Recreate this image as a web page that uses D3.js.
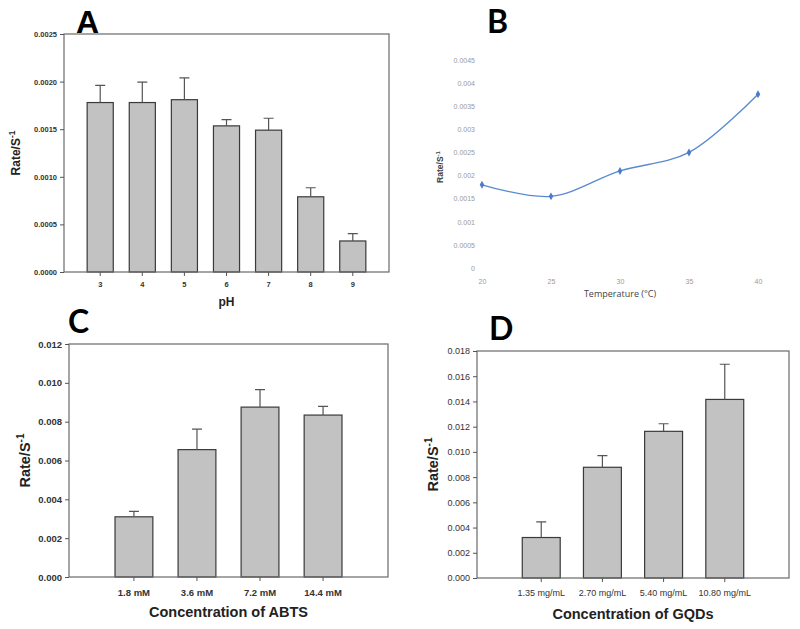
<!DOCTYPE html>
<html>
<head>
<meta charset="utf-8">
<script src="https://cdn.jsdelivr.net/npm/d3@7"></script>
<style>
  body { margin: 0; background: #fff; }
  svg { display: block; font-family: "Liberation Sans", Arial, sans-serif; }
</style>
</head>
<body>
<div id="chart"></div>
<script>
// ---- data ----
const phLabels = ["3", "4", "5", "6", "7", "8", "9"];
const phRate = [0.00178, 0.00178, 0.00181, 0.001535, 0.00149, 0.00079, 0.000326];
const phErr = [0.00018, 0.000215, 0.00023, 0.000066, 0.000125, 0.000095, 0.000078];
const phTicks = [0, 0.0005, 0.001, 0.0015, 0.002, 0.0025];

const tempLabels = [20, 25, 30, 35, 40];
const tempRate = [0.0018, 0.00155, 0.0021, 0.0025, 0.00376];
const tempTicks = [0, 0.0005, 0.001, 0.0015, 0.002, 0.0025, 0.003, 0.0035, 0.004, 0.0045];
const tempTickLabels = ["0", "0.0005", "0.001", "0.0015", "0.002", "0.0025", "0.003", "0.0035", "0.004", "0.0045"];

const abtsLabels = ["1.8 mM", "3.6 mM", "7.2 mM", "14.4 mM"];
const abtsRate = [0.0031, 0.00656, 0.00875, 0.00834];
const abtsErr = [0.00028, 0.00106, 0.0009, 0.00045];
const abtsTicks = [0, 0.002, 0.004, 0.006, 0.008, 0.01, 0.012];

const gqdLabels = ["1.35 mg/mL", "2.70 mg/mL", "5.40 mg/mL", "10.80 mg/mL"];
const gqdRate = [0.00321, 0.00878, 0.01163, 0.01416];
const gqdErr = [0.00124, 0.00092, 0.0006, 0.00279];
const gqdTicks = [0, 0.002, 0.004, 0.006, 0.008, 0.01, 0.012, 0.014, 0.016, 0.018];

const svg = d3.select("#chart").append("svg")
  .attr("width", 800)
  .attr("height", 629);

// y axis title with superscript -1
function rateTitle(g, x, y, size, weight, color) {
  const t = g.append("text")
    .attr("transform", `translate(${x},${y}) rotate(-90)`)
    .attr("text-anchor", "middle")
    .attr("font-size", size)
    .attr("font-weight", weight)
    .attr("fill", color);
  t.append("tspan").text("Rate/S");
  t.append("tspan").attr("dy", -size * 0.4).attr("font-size", size * 0.7).text("-1");
}

//---------------------------------------------------
/* SigmaPlot style bar panel */
function barPanel(o) {
  const g = svg.append("g");
  const x = d3.scaleBand()
    .domain(o.labels)
    .range([o.left, o.right])
    .paddingInner(o.padIn)
    .paddingOuter(o.padOut);
  const y = d3.scaleLinear()
    .domain([0, o.ticks[o.ticks.length - 1]])
    .range([o.bottom, o.top]);

  // bars
  g.selectAll(".bar")
    .data(o.labels).enter()
    .append("rect")
    .attr("x", d => x(d))
    .attr("y", (d, i) => y(o.values[i]))
    .attr("width", x.bandwidth())
    .attr("height", (d, i) => y(0) - y(o.values[i]))
    .attr("fill", "#c2c2c2")
    .attr("stroke", "#3a3a3a")
    .attr("stroke-width", 1.2);

  // error bars, upper half only
  const cap = o.cap;
  g.selectAll(".err")
    .data(o.labels).enter()
    .append("path")
    .attr("d", (d, i) => {
      const cx = x(d) + x.bandwidth() / 2;
      const y0 = y(o.values[i]);
      const y1 = y(o.values[i] + o.errors[i]);
      return `M${cx},${y0}V${y1}M${cx - cap / 2},${y1}H${cx + cap / 2}`;
    })
    .attr("stroke", "#555")
    .attr("stroke-width", 1.2)
    .attr("fill", "none");

  // frame
  g.append("rect")
    .attr("x", o.left).attr("y", o.top)
    .attr("width", o.right - o.left).attr("height", o.bottom - o.top)
    .attr("fill", "none")
    .attr("stroke", "#6a6a6a")
    .attr("stroke-width", 1.2);

  const yAxis = d3.axisLeft(y).tickValues(o.ticks).tickFormat(d3.format(o.fmt)).tickSize(4).tickPadding(3);
  g.append("g")
    .attr("transform", `translate(${o.left},0)`)
    .call(yAxis)
    .call(a => a.select(".domain").remove())
    .call(a => a.selectAll("line").attr("stroke", "#555"))
    .call(a => a.selectAll("text")
      .attr("font-family", "Liberation Sans, Arial, sans-serif")
      .attr("font-size", o.tickSize)
      .attr("font-weight", o.tickWeight)
      .attr("fill", "#333"));

  const xAxis = d3.axisBottom(x).tickSize(4).tickPadding(o.xPad);
  g.append("g")
    .attr("transform", `translate(0,${o.bottom})`)
    .call(xAxis)
    .call(a => a.select(".domain").remove())
    .call(a => a.selectAll("line").attr("stroke", "#555"))
    .call(a => a.selectAll("text")
      .attr("font-family", "Liberation Sans, Arial, sans-serif")
      .attr("font-size", o.tickSize)
      .attr("font-weight", o.tickWeight)
      .attr("fill", "#333"));

  g.append("text")
    .attr("x", (o.left + o.right) / 2)
    .attr("y", o.xTitleY)
    .attr("text-anchor", "middle")
    .attr("font-size", o.titleSize)
    .attr("font-weight", "bold")
    .attr("fill", "#222")
    .text(o.xTitle);

  rateTitle(g, o.yTitleX, (o.top + o.bottom) / 2, o.titleSize, "bold", "#222");

  g.append("text")
    .attr("x", o.letterX).attr("y", o.letterY)
    .attr("font-family", o.letterFont)
    .attr("font-size", 32)
    .attr("font-weight", "bold")
    .attr("fill", "#000")
    .text(o.letter);
}

barPanel({
  labels: phLabels, values: phRate, errors: phErr, ticks: phTicks, fmt: ".4f",
  left: 64, right: 389, top: 34, bottom: 272, padIn: 0.38, padOut: 0.55, cap: 10,
  tickSize: 7.5, tickWeight: "bold", xPad: 6,
  xTitle: "pH", xTitleY: 306, titleSize: 12, yTitleX: 20,
  letter: "A", letterX: 76, letterY: 33, letterFont: "Liberation Sans, Arial, sans-serif"
});

barPanel({
  labels: abtsLabels, values: abtsRate, errors: abtsErr, ticks: abtsTicks, fmt: ".3f",
  left: 69, right: 388, top: 344, bottom: 577, padIn: 0.4, padOut: 0.73, cap: 10,
  tickSize: 9.5, tickWeight: "bold", xPad: 8,
  xTitle: "Concentration of ABTS", xTitleY: 617, titleSize: 14.5, yTitleX: 30,
  letter: "C", letterX: 68, letterY: 333, letterFont: "Lato, 'Open Sans', sans-serif"
});

barPanel({
  labels: gqdLabels, values: gqdRate, errors: gqdErr, ticks: gqdTicks, fmt: ".3f",
  left: 477, right: 789, top: 351, bottom: 578, padIn: 0.38, padOut: 0.74, cap: 10,
  tickSize: 9, tickWeight: "normal", xPad: 8,
  xTitle: "Concentration of GQDs", xTitleY: 619, titleSize: 14.5, yTitleX: 438,
  letter: "D", letterX: 489, letterY: 340, letterFont: "Lato, 'Open Sans', sans-serif"
});

//---------------------------------------------------
/* Excel style line panel (B) */
const bx = d3.scalePoint().domain(tempLabels).range([482, 758]);
const by = d3.scaleLinear().domain([0, 0.0045]).range([268, 60]);
const gB = svg.append("g");

const byAxis = d3.axisLeft(by).tickValues(tempTicks)
  .tickFormat((d, i) => tempTickLabels[i]).tickSize(0).tickPadding(0);
gB.append("g")
  .attr("transform", "translate(475,0)")
  .call(byAxis)
  .call(a => a.select(".domain").remove())
  .call(a => a.selectAll("text")
    .attr("font-family", "Liberation Sans, Arial, sans-serif")
    .attr("font-size", 7)
    .attr("fill", "#9a9a9a"));

const bxAxis = d3.axisBottom(bx).tickSize(0).tickPadding(11);
gB.append("g")
  .attr("transform", "translate(0,268)")
  .call(bxAxis)
  .call(a => a.select(".domain").remove())
  .call(a => a.selectAll("text")
    .attr("font-family", "Liberation Sans, Arial, sans-serif")
    .attr("font-size", 7)
    .attr("fill", "#9a9a9a"));

const lineB = d3.line()
  .x((d, i) => bx(tempLabels[i]))
  .y(d => by(d))
  .curve(d3.curveCatmullRom.alpha(0.5));

gB.append("path")
  .attr("d", lineB(tempRate))
  .attr("fill", "none")
  .attr("stroke", "#5a8ad0")
  .attr("stroke-width", 1.4);

gB.selectAll(".pt")
  .data(tempRate).enter()
  .append("path")
  .attr("transform", (d, i) => `translate(${bx(tempLabels[i])},${by(d)})`)
  .attr("d", d3.symbol(d3.symbolDiamond, 18))
  .attr("fill", "#4a7cc8");

gB.append("text")
  .attr("x", 620).attr("y", 297)
  .attr("text-anchor", "middle")
  .attr("font-family", "'Open Sans', sans-serif")
  .attr("font-size", 9)
  .attr("fill", "#444")
  .text("Temperature (°C)");

rateTitle(gB, 443, 167, 8.5, "bold", "#444");

gB.append("text")
  .attr("x", 487).attr("y", 33)
  .attr("font-family", "Lato, 'Open Sans', sans-serif")
  .attr("font-size", 32)
  .attr("font-weight", "bold")
  .attr("fill", "#000")
  .text("B");
</script>
</body>
</html>
